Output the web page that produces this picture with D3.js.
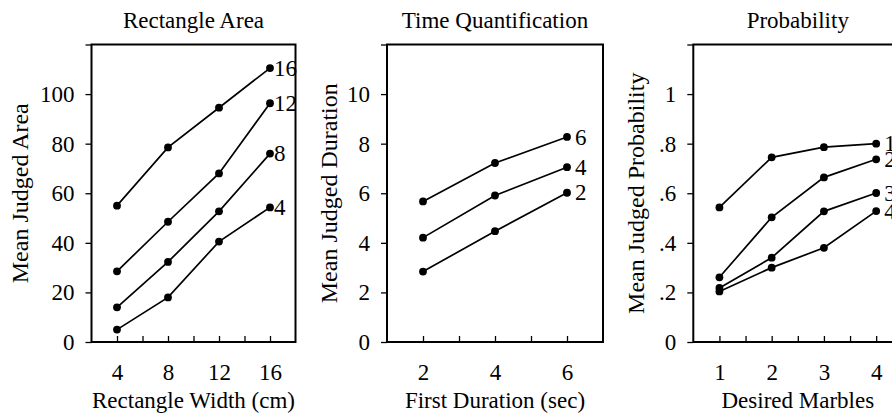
<!DOCTYPE html>
<html>
<head>
<meta charset="utf-8">
<script src="https://cdn.jsdelivr.net/npm/d3@7"></script>
<style>
  html, body { margin: 0; padding: 0; background: #fff; }
  svg { display: block; }
  text { font-family: "Liberation Serif", "Times New Roman", serif; fill: #000; }
</style>
</head>
<body>
<svg id="chart" width="892" height="415"></svg>
<script>
// ---------- DATA ----------
// Panel 1: Rectangle Area
const rectWidths = [4, 8, 12, 16];
const rectSeriesLabels = ["16", "12", "8", "4"];
const rectArea16 = [55.0, 78.5, 94.5, 110.5];
const rectArea12 = [28.5, 48.5, 68.0, 96.3];
const rectArea8  = [14.0, 32.3, 52.7, 76.0];
const rectArea4  = [5.0, 18.0, 40.5, 54.3];
const rectXTicks = [4, 6, 8, 10, 12, 14, 16];
const rectXTickLabels = ["4", "", "8", "", "12", "", "16"];
const rectYTicks = [0, 20, 40, 60, 80, 100, 120];
const rectYTickLabels = ["0", "20", "40", "60", "80", "100", ""];

// Panel 2: Time Quantification
const timeDurations = [2, 4, 6];
const timeSeriesLabels = ["6", "4", "2"];
const timeJudged6 = [5.67, 7.22, 8.27];
const timeJudged4 = [4.21, 5.91, 7.05];
const timeJudged2 = [2.84, 4.47, 6.02];
const timeXTicks = [2, 3, 4, 5, 6];
const timeXTickLabels = ["2", "", "4", "", "6"];
const timeYTicks = [0, 2, 4, 6, 8, 10, 12];
const timeYTickLabels = ["0", "2", "4", "6", "8", "10", ""];

// Panel 3: Probability
const marbles = [1, 2, 3, 4];
const probSeriesLabels = ["1", "2", "3", "4"];
const probJudged1 = [0.543, 0.745, 0.786, 0.800];
const probJudged2 = [0.261, 0.503, 0.664, 0.737];
const probJudged3 = [0.218, 0.340, 0.527, 0.601];
const probJudged4 = [0.204, 0.300, 0.380, 0.528];
const probXTicks = [1, 1.5, 2, 2.5, 3, 3.5, 4];
const probXTickLabels = ["1", "", "2", "", "3", "", "4"];
const probYTicks = [0, 0.2, 0.4, 0.6, 0.8, 1.0, 1.2];
const probYTickLabels = ["0", ".2", ".4", ".6", ".8", "1", ""];

// ---------- LAYOUT ----------
const FONT = 23;
const plotTop = 44.5, plotBottom = 342;

const panels = [
  {
    title: "Rectangle Area", xTitle: "Rectangle Width (cm)", yTitle: "Mean Judged Area",
    xDomain: [2, 18], xRange: [91.5, 295.5], yDomain: [0, 120],
    xVals: rectWidths, series: [rectArea16, rectArea12, rectArea8, rectArea4],
    seriesLabels: rectSeriesLabels, labelGap: 4,
    xTicks: rectXTicks, xTickLabels: rectXTickLabels,
    yTicks: rectYTicks, yTickLabels: rectYTickLabels, yTitleOffset: 63.5
  },
  {
    title: "Time Quantification", xTitle: "First Duration (sec)", yTitle: "Mean Judged Duration",
    xDomain: [1, 7], xRange: [387, 603], yDomain: [0, 12],
    xVals: timeDurations, series: [timeJudged6, timeJudged4, timeJudged2],
    seriesLabels: timeSeriesLabels, labelGap: 8,
    xTicks: timeXTicks, xTickLabels: timeXTickLabels,
    yTicks: timeYTicks, yTickLabels: timeYTickLabels, yTitleOffset: 50.5
  },
  {
    title: "Probability", xTitle: "Desired Marbles", yTitle: "Mean Judged Probability",
    xDomain: [0.5, 4.5], xRange: [693.3, 902.3], yDomain: [0, 1.2],
    xVals: marbles, series: [probJudged1, probJudged2, probJudged3, probJudged4],
    seriesLabels: probSeriesLabels, labelGap: 8,
    xTicks: probXTicks, xTickLabels: probXTickLabels,
    yTicks: probYTicks, yTickLabels: probYTickLabels, yTitleOffset: 49.5
  }
];

const svg = d3.select("#chart");

panels.forEach(p => {
  const x = d3.scaleLinear().domain(p.xDomain).range(p.xRange);
  const y = d3.scaleLinear().domain(p.yDomain).range([plotBottom, plotTop]);
  const g = svg.append("g");
  const left = p.xRange[0], right = p.xRange[1];
  const cx = (left + right) / 2;

  // title
  g.append("text")
    .attr("x", cx).attr("y", 27.5)
    .attr("text-anchor", "middle")
    .style("font-size", FONT + "px")
    .text(p.title);

  // y axis (ticks outward)
  const yAxis = d3.axisLeft(y)
    .tickValues(p.yTicks)
    .tickSizeInner(6).tickSizeOuter(0).tickPadding(11)
    .tickFormat((d, i) => p.yTickLabels[i]);
  const ya = g.append("g").attr("transform", `translate(${left},0)`).call(yAxis);
  ya.select(".domain").remove();
  ya.attr("font-family", null).attr("font-size", null);
  ya.selectAll("line").attr("stroke", "#000").attr("stroke-width", 1.3);
  ya.selectAll("text").style("font-size", FONT + "px").attr("fill", "#000");

  // x axis (ticks inward)
  const xAxis = d3.axisBottom(x)
    .tickValues(p.xTicks)
    .tickSizeInner(-6).tickSizeOuter(0).tickPadding(22)
    .tickFormat((d, i) => p.xTickLabels[i]);
  const xa = g.append("g").attr("transform", `translate(0,${plotBottom})`).call(xAxis);
  xa.select(".domain").remove();
  xa.attr("font-family", null).attr("font-size", null);
  xa.selectAll("line").attr("stroke", "#000").attr("stroke-width", 1.3);
  xa.selectAll("text").style("font-size", FONT + "px").attr("fill", "#000");

  // frame
  g.append("rect")
    .attr("x", left).attr("y", plotTop)
    .attr("width", right - left).attr("height", plotBottom - plotTop)
    .attr("fill", "none").attr("stroke", "#000").attr("stroke-width", 2);

  // x title
  g.append("text")
    .attr("x", cx).attr("y", 408)
    .attr("text-anchor", "middle")
    .style("font-size", FONT + "px")
    .text(p.xTitle);

  // y title
  const cy = (plotTop + plotBottom) / 2;
  g.append("text")
    .attr("transform", `translate(${left - p.yTitleOffset},${cy}) rotate(-90)`)
    .attr("text-anchor", "middle")
    .style("font-size", (FONT + 1) + "px")
    .text(p.yTitle);

  // series
  const line = d3.line().x((d, i) => x(p.xVals[i])).y(d => y(d));
  p.series.forEach((vals, si) => {
    g.append("path")
      .attr("d", line(vals))
      .attr("fill", "none").attr("stroke", "#000").attr("stroke-width", 1.7);
    g.selectAll(null).data(vals).enter().append("circle")
      .attr("cx", (d, i) => x(p.xVals[i]))
      .attr("cy", d => y(d))
      .attr("r", 3.9)
      .attr("fill", "#000");
    const lastI = vals.length - 1;
    g.append("text")
      .attr("x", x(p.xVals[lastI]) + p.labelGap)
      .attr("y", y(vals[lastI]))
      .attr("dy", "0.33em")
      .style("font-size", FONT + "px")
      .text(p.seriesLabels[si]);
  });
});
</script>
</body>
</html>
